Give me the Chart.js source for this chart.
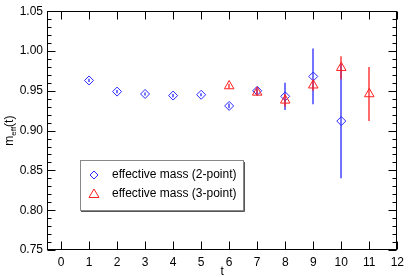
<!DOCTYPE html>
<html>
<head>
<meta charset="utf-8">
<script src="https://cdn.jsdelivr.net/npm/chart.js@4.4.0/dist/chart.umd.min.js"></script>
<style>
html, body { margin: 0; padding: 0; background: #fff; }
</style>
</head>
<body>
<canvas id="effMassChart" width="409" height="277"></canvas>
<script>
// effective mass data
var twoPointT = [1, 2, 3, 4, 5, 6, 7, 8, 9, 10];
var twoPointMass = [0.963, 0.949, 0.946, 0.944, 0.945, 0.931, 0.950, 0.943, 0.968, 0.912];
var twoPointErr = [0.002, 0.002, 0.002, 0.002, 0.002, 0.003, 0.004, 0.017, 0.035, 0.072];

var threePointT = [6, 7, 8, 9, 10, 11];
var threePointMass = [0.956, 0.948, 0.938, 0.957, 0.979, 0.946];
var threePointErr = [0.003, 0.004, 0.008, 0.007, 0.0145, 0.034];

var xTicks = [0, 1, 2, 3, 4, 5, 6, 7, 8, 9, 10, 11, 12];
var yTicks = [0.75, 0.80, 0.85, 0.90, 0.95, 1.00, 1.05];

var blue = 'rgb(40, 40, 255)';
var red = 'rgb(255, 30, 30)';
var fontName = '"Liberation Sans", Arial, sans-serif';

function toPoints(xs, ys) {
    return xs.map(function (x, i) { return { x: x, y: ys[i] }; });
}

// error bar arrays and colours, by dataset index
var errSets = [threePointErr, twoPointErr];
var errColors = [red, blue];

// vertical error bars, drawn under each dataset's markers
var errorBars = {
    id: 'errorBars',
    beforeDatasetDraw: function (chart, args) {
        var errs = errSets[args.index];
        var pts = chart.data.datasets[args.index].data;
        var xs = chart.scales.x, ys = chart.scales.y, ctx = chart.ctx;
        ctx.save();
        ctx.strokeStyle = errColors[args.index];
        ctx.lineWidth = 1.3;
        pts.forEach(function (p, i) {
            var px = Math.round(xs.getPixelForValue(p.x));
            ctx.beginPath();
            ctx.moveTo(px, ys.getPixelForValue(p.y + errs[i]));
            ctx.lineTo(px, ys.getPixelForValue(p.y - errs[i]));
            ctx.stroke();
        });
        ctx.restore();
    }
};

// frame with inward ticks on all four sides, y-axis label, legend box
var frame = {
    id: 'frame',
    afterDraw: function (chart) {
        var ctx = chart.ctx, a = chart.chartArea;
        var xs = chart.scales.x, ys = chart.scales.y;
        var L = Math.round(a.left) + 0.5, R = Math.round(a.right) - 0.5;
        var T = Math.round(a.top) + 0.5, B = Math.round(a.bottom) - 0.5;
        ctx.save();
        ctx.strokeStyle = '#000';
        ctx.lineWidth = 1;
        ctx.strokeRect(L, T, R - L, B - T);
        ctx.beginPath();
        xTicks.forEach(function (v) {
            var px = Math.round(xs.getPixelForValue(v)) + 0.5;
            ctx.moveTo(px, B); ctx.lineTo(px, B - 8);
            ctx.moveTo(px, T); ctx.lineTo(px, T + 8);
        });
        for (var k = 75; k <= 105; k++) {
            var py = Math.round(ys.getPixelForValue(k / 100)) + 0.5;
            var len = (k % 5 === 0) ? 8 : 4;
            ctx.moveTo(L, py); ctx.lineTo(L + len, py);
            ctx.moveTo(R, py); ctx.lineTo(R - len, py);
        }
        ctx.stroke();

        // y axis title m_eff(t)
        ctx.fillStyle = '#000';
        ctx.translate(13, (a.top + a.bottom) / 2);
        ctx.rotate(-Math.PI / 2);
        ctx.textBaseline = 'alphabetic';
        ctx.font = '12px ' + fontName;
        var w1 = ctx.measureText('m').width;
        ctx.font = '8px ' + fontName;
        var w2 = ctx.measureText('eff').width;
        ctx.font = '12px ' + fontName;
        var w3 = ctx.measureText('(t)').width;
        var x0 = -(w1 + w2 + w3) / 2;
        ctx.fillText('m', x0, 0);
        ctx.font = '8px ' + fontName;
        ctx.fillText('eff', x0 + w1, 3);
        ctx.font = '12px ' + fontName;
        ctx.fillText('(t)', x0 + w1 + w2, 0);
        ctx.restore();

        // legend
        ctx.save();
        ctx.fillStyle = '#fff';
        ctx.fillRect(80, 160, 164, 51);
        ctx.strokeStyle = '#555';
        ctx.beginPath();
        ctx.moveTo(81, 211.5); ctx.lineTo(244.5, 211.5); ctx.lineTo(244.5, 162);
        ctx.stroke();
        ctx.strokeStyle = '#888';
        ctx.strokeRect(80.5, 160.5, 163, 50);
        ctx.lineWidth = 1;
        ctx.strokeStyle = blue;
        ctx.beginPath();
        ctx.moveTo(94, 171); ctx.lineTo(98, 175); ctx.lineTo(94, 179); ctx.lineTo(90, 175); ctx.closePath();
        ctx.stroke();
        ctx.strokeStyle = red;
        ctx.beginPath();
        ctx.moveTo(94, 189); ctx.lineTo(99, 197.5); ctx.lineTo(89, 197.5); ctx.closePath();
        ctx.stroke();
        ctx.fillStyle = '#000';
        ctx.font = '12px ' + fontName;
        ctx.textBaseline = 'middle';
        ctx.fillText('effective mass (2-point)', 112, 175);
        ctx.fillText('effective mass (3-point)', 112, 194);
        ctx.restore();
    }
};

var effMassChart = new Chart('effMassChart', {
    type: 'scatter',
    data: {
        datasets: [{
            label: 'effective mass (3-point)',
            data: toPoints(threePointT, threePointMass),
            borderColor: red,
            backgroundColor: 'rgba(0,0,0,0)',
            pointStyle: 'triangle',
            pointRadius: 5.5,
            borderWidth: 1,
            order: 0
        }, {
            label: 'effective mass (2-point)',
            data: toPoints(twoPointT, twoPointMass),
            borderColor: blue,
            backgroundColor: 'rgba(0,0,0,0)',
            pointStyle: 'rectRot',
            pointRadius: 4.5,
            borderWidth: 1,
            order: 1
        }]
    },
    options: {
        responsive: false,
        animation: false,
        events: [],
        layout: {
            padding: { left: 0, right: 9, top: 6, bottom: 0 }
        },
        scales: {
            x: {
                type: 'linear',
                min: -0.5,
                max: 12,
                afterBuildTicks: function (s) {
                    s.ticks = xTicks.map(function (v) { return { value: v }; });
                },
                afterFit: function (s) { s.height = 27; },
                grid: { display: false, drawTicks: false },
                border: { display: false },
                ticks: {
                    color: '#000',
                    padding: 5,
                    maxRotation: 0,
                    font: { family: fontName, size: 12 }
                },
                title: {
                    display: true,
                    text: 't',
                    color: '#000',
                    padding: { top: 0, bottom: -2 },
                    font: { family: fontName, size: 12 }
                }
            },
            y: {
                type: 'linear',
                min: 0.75,
                max: 1.05,
                afterBuildTicks: function (s) {
                    s.ticks = yTicks.map(function (v) { return { value: v }; });
                },
                afterFit: function (s) { s.width = 47; },
                grid: { display: false, drawTicks: false },
                border: { display: false },
                ticks: {
                    color: '#000',
                    padding: 4,
                    font: { family: fontName, size: 12 },
                    callback: function (v) { return v.toFixed(2); }
                }
            }
        },
        plugins: {
            legend: { display: false },
            tooltip: { enabled: false }
        }
    },
    plugins: [errorBars, frame]
});
</script>
</body>
</html>
